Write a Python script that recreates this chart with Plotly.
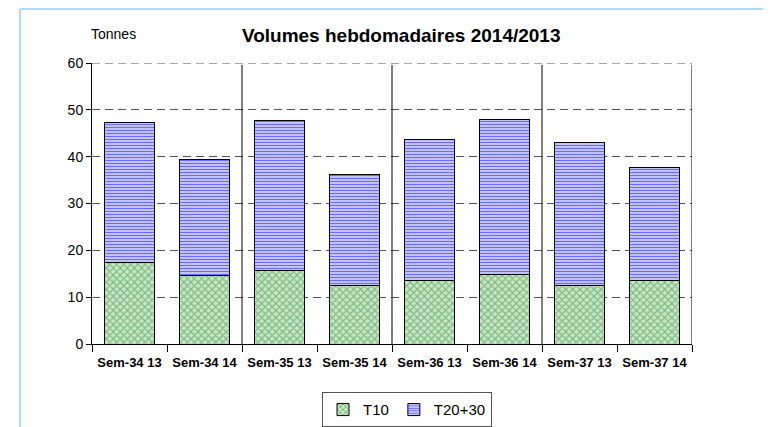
import plotly.graph_objects as go

categories = ["Sem-34 13", "Sem-34 14", "Sem-35 13", "Sem-35 14",
              "Sem-36 13", "Sem-36 14", "Sem-37 13", "Sem-37 14"]
t10 = [17.5, 14.7, 15.8, 12.5, 13.6, 14.9, 12.5, 13.5]
t2030 = [29.8, 24.6, 32.0, 23.8, 30.0, 33.1, 30.5, 24.1]
y_ticks = [0, 10, 20, 30, 40, 50, 60]
separators = [1.5, 3.5, 5.5, 7.5]

FONT = "Liberation Sans, Arial, sans-serif"

fig = go.Figure()
fig.add_trace(go.Bar(
    x=categories, y=t10, name="T10", width=0.67,
    marker=dict(color="white", line=dict(color="black", width=1),
                pattern=dict(shape="x", fgcolor="#2e8b2e", bgcolor="#c8e6c8",
                             size=5, solidity=0.4)),
))
fig.add_trace(go.Bar(
    x=categories, y=t2030, name="T20+30", width=0.67,
    marker=dict(color="white", line=dict(color="black", width=1),
                pattern=dict(shape="-", fgcolor="#0000ff", bgcolor="#d4d4ff",
                             size=3, solidity=0.45)),
))

shapes = []
for s in separators:
    shapes.append(dict(type="line", xref="x", yref="y", x0=s, x1=s, y0=-2.4, y1=59.6,
                       line=dict(color="black", width=1), layer="above"))
# top gridline at 60
shapes.append(dict(type="line", xref="x", yref="y", x0=-0.5, x1=7.5, y0=60, y1=60,
                   line=dict(color="#555555", width=1, dash="8px,5px"), layer="below"))
# border of the chart frame
shapes.append(dict(type="line", xref="paper", yref="paper", x0=-0.12, x1=1.3,
                   y0=1.192, y1=1.192, line=dict(color="#8fd3f0", width=1.5)))
shapes.append(dict(type="line", xref="paper", yref="paper", x0=-0.12, x1=-0.12,
                   y0=1.192, y1=-0.4, line=dict(color="#8fd3f0", width=1.5)))

fig.update_layout(
    barmode="stack",
    width=771, height=427,
    margin=dict(l=84, r=87, t=55, b=91, autoexpand=False),
    paper_bgcolor="white", plot_bgcolor="white",
    font=dict(family=FONT, size=13, color="black"),
    title=dict(text="<b>Volumes hebdomadaires 2014/2013</b>", x=0.51, xanchor="center",
               y=1 - 27 / 427, yanchor="middle", yref="container", automargin=False,
               font=dict(size=19, family=FONT, color="black")),
    xaxis=dict(type="category", range=[-0.5, 7.5], showline=True, linecolor="black",
               linewidth=1, ticks="outside", tickson="boundaries", ticklen=7,
               tickcolor="black", showgrid=False, automargin=False,
               ticklabelstandoff=6,
               tickfont=dict(size=13, family=FONT, color="black"),
               tickprefix="<b>", ticksuffix="</b>"),
    yaxis=dict(range=[0, 60], tickvals=y_ticks, showline=True, linecolor="black",
               linewidth=1, ticks="outside", ticklen=5, tickcolor="black",
               showgrid=True, gridcolor="#555555", griddash="8px,5px", gridwidth=1,
               zeroline=False, automargin=False,
               tickfont=dict(size=14, family=FONT, color="black")),
    legend=dict(orientation="h", x=0.525, xanchor="center", y=-0.172, yanchor="top",
                bordercolor="#555555", borderwidth=1, font=dict(size=15, family=FONT),
                traceorder="normal", itemwidth=30, tracegroupgap=0),
    shapes=shapes,
    annotations=[dict(text="Tonnes", xref="paper", yref="paper", x=(113 - 92) / 600,
                      y=(344 - 34) / 281, xanchor="center", yanchor="middle",
                      showarrow=False, font=dict(size=14, family=FONT))],
)

fig.write_html("out.html")
